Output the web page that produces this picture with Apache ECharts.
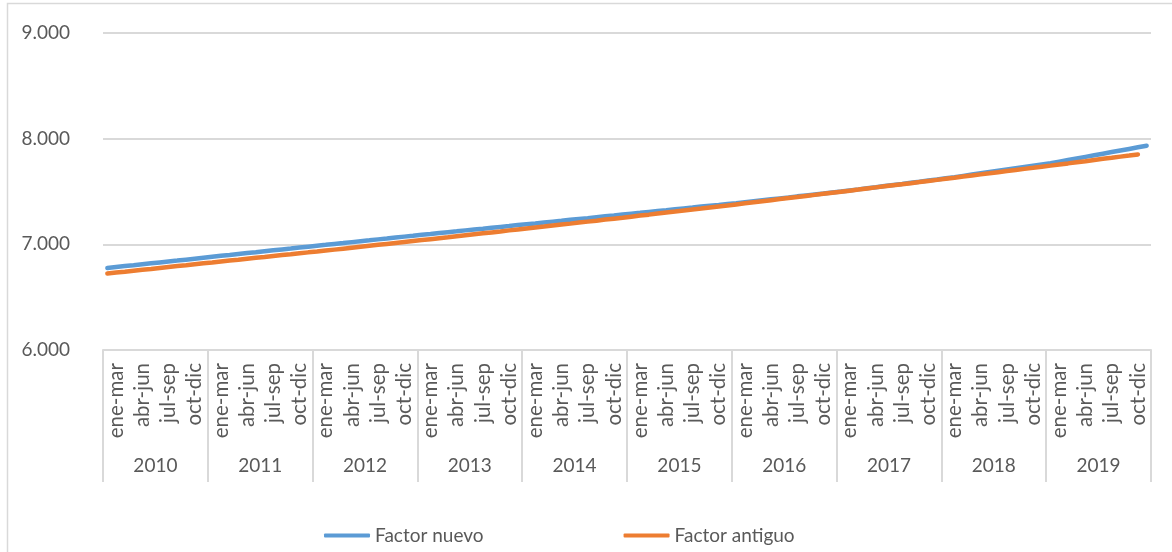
<!DOCTYPE html>
<html>
<head>
<meta charset="utf-8">
<script src="https://cdn.jsdelivr.net/npm/echarts@6/dist/echarts.min.js"></script>
<style>
  html, body { margin: 0; padding: 0; background: #fff; }
  #chart { width: 1172px; height: 552px; }
</style>
</head>
<body>
<div id="chart"></div>
<script>
// categorías
var years = ['2010', '2011', '2012', '2013', '2014', '2015', '2016', '2017', '2018', '2019'];
var quarters = ['ene-mar', 'abr-jun', 'jul-sep', 'oct-dic'];
var months = ['ene', 'feb', 'mar', 'abr', 'may', 'jun', 'jul', 'ago', 'sep', 'oct', 'nov', 'dic'];

// series mensuales
var factorNuevo = [
  6776, 6785, 6794, 6802, 6811, 6820, 6829, 6838, 6846, 6855, 6864, 6873,
  6882, 6891, 6899, 6908, 6917, 6925, 6934, 6943, 6952, 6960, 6969, 6978,
  6987, 6995, 7004, 7012, 7021, 7030, 7038, 7047, 7055, 7064, 7073, 7081,
  7090, 7098, 7107, 7115, 7123, 7132, 7140, 7148, 7157, 7165, 7173, 7182,
  7190, 7198, 7207, 7215, 7223, 7232, 7240, 7248, 7257, 7265, 7273, 7282,
  7290, 7298, 7307, 7315, 7323, 7332, 7340, 7348, 7357, 7365, 7373, 7382,
  7390, 7399, 7408, 7417, 7426, 7435, 7444, 7454, 7463, 7472, 7481, 7491,
  7500, 7510, 7520, 7531, 7541, 7552, 7562, 7572, 7583, 7593, 7604, 7614,
  7625, 7636, 7648, 7660, 7672, 7684, 7696, 7708, 7720, 7732, 7744, 7756,
  7768, 7783, 7798, 7813, 7828, 7843, 7858, 7873, 7888, 7903, 7918, 7933
];
var factorAntiguo = [
  6724, 6733, 6741, 6750, 6759, 6767, 6776, 6785, 6794, 6802, 6811, 6820,
  6828, 6837, 6846, 6854, 6863, 6872, 6880, 6889, 6898, 6906, 6915, 6924,
  6932, 6941, 6950, 6959, 6968, 6977, 6986, 6995, 7004, 7013, 7022, 7031,
  7040, 7049, 7058, 7067, 7077, 7086, 7095, 7104, 7113, 7122, 7132, 7141,
  7150, 7159, 7168, 7178, 7187, 7196, 7206, 7215, 7224, 7234, 7243, 7252,
  7262, 7272, 7281, 7291, 7301, 7310, 7320, 7330, 7339, 7349, 7359, 7368,
  7378, 7388, 7398, 7408, 7418, 7428, 7438, 7448, 7458, 7468, 7478, 7488,
  7498, 7508, 7518, 7529, 7539, 7549, 7559, 7569, 7579, 7590, 7600, 7610,
  7620, 7630, 7641, 7651, 7662, 7672, 7683, 7693, 7703, 7714, 7724, 7735,
  7745, 7756, 7766, 7777, 7787, 7798, 7809, 7819, 7830, 7840, 7851, null
];

var yMin = 6000, yMax = 9000, yStep = 1000;

// etiquetas para los ejes
var monthCats = [];
var quarterCats = [];
years.forEach(function (y) {
  months.forEach(function (m) { monthCats.push(m + ' ' + y); });
  quarters.forEach(function (q) { quarterCats.push(q + '|' + y); });
});

var txt = '#595959';
var gridCol = '#d9d9d9';
var font = 'Lato';

var chart = echarts.init(document.getElementById('chart'));
chart.setOption({
  backgroundColor: '#fff',
  animation: false,
  textStyle: { fontFamily: font },
  grid: { left: 103, top: 33, width: 1048, height: 317 },
  graphic: [{
    type: 'rect',
    shape: { x: 7.5, y: 3.5, width: 1180, height: 600 },
    style: { fill: 'none', stroke: gridCol, lineWidth: 1.5 },
    silent: true, z: -1
  }],
  legend: {
    left: 319, top: 521,
    itemWidth: 46, itemHeight: 4, itemGap: 140,
    icon: 'roundRect',
    textStyle: { color: txt, fontSize: 19, fontFamily: font },
    data: ['Factor nuevo', 'Factor antiguo']
  },
  xAxis: [
    {
      // eje mensual oculto para las líneas
      type: 'category', data: monthCats, boundaryGap: true,
      show: false, gridIndex: 0
    },
    {
      type: 'category', data: quarterCats, boundaryGap: true, position: 'bottom',
      axisLine: { show: true, lineStyle: { color: gridCol, width: 2 } },
      axisTick: { show: false },
      axisLabel: {
        interval: 0, rotate: 90, margin: 13, color: txt, fontSize: 20.5, fontFamily: font,
        formatter: function (v) { return v.split('|')[0]; }
      },
      splitLine: { show: false }
    },
    {
      type: 'category', data: years, boundaryGap: true, position: 'bottom',
      axisLine: { show: false },
      axisTick: { show: true, interval: 0, length: 132, lineStyle: { color: gridCol, width: 2 } },
      axisLabel: { interval: 0, margin: 106, color: txt, fontSize: 19, fontFamily: font },
      splitLine: { show: false }
    }
  ],
  yAxis: {
    type: 'value', min: yMin, max: yMax, interval: yStep,
    axisLine: { show: false }, axisTick: { show: false },
    axisLabel: {
      margin: 33, color: txt, fontSize: 19, fontFamily: font,
      formatter: function (v) { return (v / 1000).toFixed(3); }
    },
    splitLine: { lineStyle: { color: gridCol, width: 2 } }
  },
  series: [
    {
      name: 'Factor nuevo', type: 'line', xAxisIndex: 0, data: factorNuevo,
      showSymbol: false, symbol: 'none', color: '#5B9BD5',
      lineStyle: { width: 4.5, color: '#5B9BD5', cap: 'round' }
    },
    {
      name: 'Factor antiguo', type: 'line', xAxisIndex: 0, data: factorAntiguo,
      showSymbol: false, symbol: 'none', color: '#ED7D31',
      lineStyle: { width: 4.5, color: '#ED7D31', cap: 'round' }
    }
  ]
});
</script>
</body>
</html>
